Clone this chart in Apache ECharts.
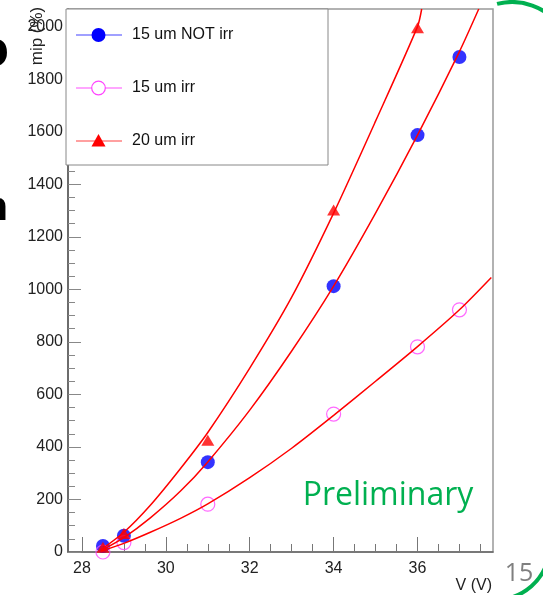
<!DOCTYPE html>
<html>
<head>
<meta charset="utf-8">
<script src="https://cdn.jsdelivr.net/npm/echarts@6/dist/echarts.min.js"></script>
<style>
html,body{margin:0;padding:0;background:#fff;}
#chart{width:543px;height:595px;}
</style>
</head>
<body>
<div id="chart"></div>
<script>
// ---- data ----
const seriesNames = ['15 um NOT irr', '15 um irr', '20 um irr'];
const voltages15NotIrr = [28.5, 29, 31, 34, 36, 37];
const mip15NotIrr      = [23, 62, 342, 1012, 1587, 1884];
const voltages15Irr    = [28.5, 29, 31, 34, 36, 37];
const mip15Irr         = [0, 36, 182, 525, 781, 922];
const voltages20Irr    = [28.5, 29, 31, 34, 36];
const mip20Irr         = [18, 70, 425, 1302, 1996];

// fit curves
const fitV15NotIrr   = [28.45, 29, 29.63, 30.35, 31, 32, 33, 34, 35, 36, 37, 37.46];
const fitMip15NotIrr = [5, 55, 130, 232, 343, 540, 765, 1012, 1290, 1587, 1905, 2067];
const fitV15Irr      = [28.45, 29, 29.63, 30.35, 31, 32, 33, 34, 35, 36, 37, 37.76];
const fitMip15Irr    = [3, 33, 75, 128, 183, 283, 395, 520, 650, 782, 922, 1045];
const fitV20Irr      = [28.45, 29, 29.63, 30.35, 31, 32, 33, 34, 35, 36, 36.1];
const fitMip20Irr    = [8, 75, 178, 318, 455, 700, 970, 1290, 1640, 2000, 2067];

// axes
const xMin = 27.667, xMax = 37.8;
const yMin = 0, yMax = 2067;
const xMajorTicks = [28, 30, 32, 34, 36];
const xMinorTicks = [28.5, 29, 29.5, 30.5, 31, 31.5, 32.5, 33, 33.5, 34.5, 35, 35.5, 36.5, 37, 37.5];
const yMajorTicks = [0, 200, 400, 600, 800, 1000, 1200, 1400, 1600, 1800, 2000];
const yMinorTicks = [50, 100, 150, 250, 300, 350, 450, 500, 550, 650, 700, 750, 850, 900, 950,
  1050, 1100, 1150, 1250, 1300, 1350, 1450, 1500, 1550, 1650, 1700, 1750, 1850, 1900, 1950, 2050];
const xTitle = 'V (V)';
const yTitle = 'mip (%)';

const zip = (a, b) => a.map((v, i) => [v, b[i]]);

const FONT = 'Liberation Sans, Arial, sans-serif';
const BLUE = '#0000ff', MAGENTA = '#ff44ff', RED = '#ff0000';

const chart = echarts.init(document.getElementById('chart'), null, {renderer: 'canvas'});

const axisCommon = {
  type: 'value',
  splitLine: {show: false},
};

// legend (drawn as graphics)
const legendRows = [
  {y: 35, color: '#8080ff', name: seriesNames[0], sym: 'dot'},
  {y: 88, color: '#ff88ff', name: seriesNames[1], sym: 'ring'},
  {y: 141, color: '#ff8080', name: seriesNames[2], sym: 'tri'}
];
const legendGraphics = [{
  type: 'rect', shape: {x: 66, y: 9, width: 262, height: 156},
  style: {fill: '#fff', stroke: '#888', lineWidth: 1}, z: 10
}];
legendRows.forEach(r => {
  legendGraphics.push({type: 'line', shape: {x1: 76, y1: r.y, x2: 122, y2: r.y},
    style: {stroke: r.color, lineWidth: 1.5}, z: 11});
  if (r.sym === 'dot') {
    legendGraphics.push({type: 'circle', shape: {cx: 98.5, cy: r.y, r: 7}, style: {fill: BLUE}, z: 12});
  } else if (r.sym === 'ring') {
    legendGraphics.push({type: 'circle', shape: {cx: 98.5, cy: r.y, r: 6.8},
      style: {fill: '#fff', stroke: MAGENTA, lineWidth: 1.2}, z: 12});
  } else {
    legendGraphics.push({type: 'polygon', shape: {points: [[98.5, r.y - 7], [105.5, r.y + 5.5], [91.5, r.y + 5.5]]},
      style: {fill: RED}, z: 12});
  }
  legendGraphics.push({type: 'text', x: 132, y: r.y, z: 12,
    style: {text: r.name, font: '16px ' + FONT, fill: '#111', verticalAlign: 'middle', align: 'left'}});
});

const plainNum = v => String(Math.round(v));

const option = {
  animation: false,
  backgroundColor: '#fff',
  grid: {left: 68, right: 50, top: 9, bottom: 43, show: true, borderColor: '#999', borderWidth: 1.5, backgroundColor: 'transparent'},
  xAxis: [
    Object.assign({}, axisCommon, {
      min: xMin, max: xMax, position: 'bottom',
      axisLine: {show: true, onZero: false, lineStyle: {color: '#666', width: 1.5}},
      axisTick: {show: true, inside: true, length: 15, customValues: xMajorTicks, lineStyle: {color: '#777', width: 1}},
      axisLabel: {show: true, customValues: xMajorTicks, formatter: plainNum, margin: 9, fontSize: 16, fontFamily: FONT, color: '#222'}
    }),
    Object.assign({}, axisCommon, {
      min: xMin, max: xMax, position: 'bottom',
      axisLine: {show: false, onZero: false},
      axisTick: {show: true, inside: true, length: 8, customValues: xMinorTicks, lineStyle: {color: '#777', width: 1}},
      axisLabel: {show: false}
    })
  ],
  yAxis: [
    Object.assign({}, axisCommon, {
      min: yMin, max: yMax, position: 'left',
      axisLine: {show: true, onZero: false, lineStyle: {color: '#555', width: 1.5}},
      axisTick: {show: true, inside: true, length: 13, customValues: yMajorTicks, lineStyle: {color: '#888', width: 1}},
      axisLabel: {show: true, customValues: yMajorTicks, formatter: plainNum, margin: 5, fontSize: 16, fontFamily: FONT, color: '#222'}
    }),
    Object.assign({}, axisCommon, {
      min: yMin, max: yMax, position: 'left',
      axisLine: {show: false, onZero: false},
      axisTick: {show: true, inside: true, length: 7, customValues: yMinorTicks, lineStyle: {color: '#888', width: 1}},
      axisLabel: {show: false}
    })
  ],
  series: [
    {name: seriesNames[0], type: 'scatter', xAxisIndex: 0, yAxisIndex: 0,
      data: zip(voltages15NotIrr, mip15NotIrr), symbol: 'circle', symbolSize: 14,
      itemStyle: {color: BLUE}, z: 3},
    {name: seriesNames[1], type: 'scatter', xAxisIndex: 0, yAxisIndex: 0,
      data: zip(voltages15Irr, mip15Irr), symbol: 'circle', symbolSize: 14,
      itemStyle: {color: 'rgba(0,0,0,0)', borderColor: MAGENTA, borderWidth: 1.2}, z: 3},
    {name: seriesNames[2], type: 'scatter', xAxisIndex: 0, yAxisIndex: 0,
      data: zip(voltages20Irr, mip20Irr), symbol: 'triangle', symbolSize: [13, 11],
      itemStyle: {color: RED}, z: 4},
    {name: 'fit ' + seriesNames[0], type: 'line', smooth: 0.25, showSymbol: false, symbol: 'none',
      data: zip(fitV15NotIrr, fitMip15NotIrr), lineStyle: {color: RED, width: 1.5}, z: 5, clip: true},
    {name: 'fit ' + seriesNames[1], type: 'line', smooth: 0.25, showSymbol: false, symbol: 'none',
      data: zip(fitV15Irr, fitMip15Irr), lineStyle: {color: RED, width: 1.5}, z: 5, clip: true},
    {name: 'fit ' + seriesNames[2], type: 'line', smooth: 0.25, showSymbol: false, symbol: 'none',
      data: zip(fitV20Irr, fitMip20Irr), lineStyle: {color: RED, width: 1.5}, z: 5, clip: true}
  ],
  graphic: legendGraphics.concat([
    {type: 'text', x: 37, y: 36, rotation: Math.PI / 2, z: 20,
      style: {text: yTitle, font: '17px ' + FONT, fill: '#222', align: 'center', verticalAlign: 'middle'}},
    {type: 'text', x: 492, y: 578, z: 20,
      style: {text: xTitle, font: '16px ' + FONT, fill: '#222', align: 'right', verticalAlign: 'top'}},
    {type: 'text', x: 388, y: 496, z: 20,
      style: {text: 'Preliminary', font: '32px "Open Sans", sans-serif', fill: '#00b050', align: 'center', verticalAlign: 'middle'}},
    {type: 'text', x: 519, y: 574, z: 20,
      style: {text: '15', font: '25px "Open Sans", sans-serif', fill: '#7f7f7f', align: 'center', verticalAlign: 'middle'}},
    {type: 'text', x: 9, y: 52, z: 20,
      style: {text: 'o', font: 'bold 52px ' + FONT, fill: '#000', align: 'right', verticalAlign: 'middle'}},
    {type: 'text', x: 8, y: 209, z: 20,
      style: {text: 'n', font: 'bold 40px ' + FONT, fill: '#000', align: 'right', verticalAlign: 'middle'}},
    {type: 'arc', shape: {cx: 512, cy: 62, r: 60, startAngle: -Math.PI * 0.58, endAngle: -Math.PI * 0.2},
      style: {stroke: '#00b050', lineWidth: 4, fill: null}, z: 20},
    {type: 'arc', shape: {cx: 495, cy: 545, r: 55, startAngle: Math.PI * 0.12, endAngle: Math.PI * 0.42},
      style: {stroke: '#00b050', lineWidth: 4, fill: null}, z: 20}
  ])
};

chart.setOption(option);
</script>
</body>
</html>
